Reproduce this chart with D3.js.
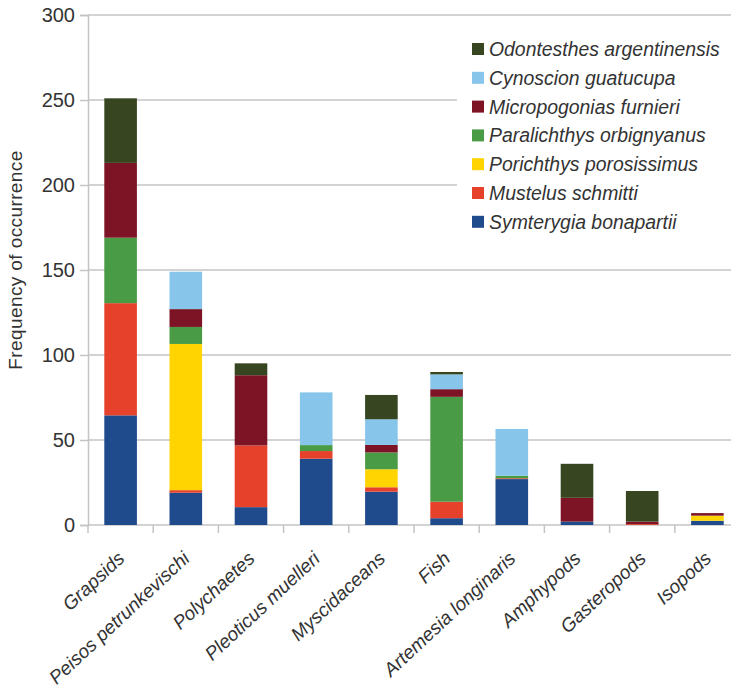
<!DOCTYPE html>
<html>
<head>
<meta charset="utf-8">
<script src="https://cdn.jsdelivr.net/npm/d3@7"></script>
<style>
  html, body { margin: 0; padding: 0; background: #fff; }
  svg { display: block; }
  text { font-family: "Liberation Sans", Arial, sans-serif; fill: #333; }
</style>
</head>
<body>
<svg id="chart" width="731" height="690"></svg>
<script>
// Prey categories along the x axis
const categories = ["Grapsids", "Peisos petrunkevischi", "Polychaetes", "Pleoticus muelleri",
  "Myscidaceans", "Fish", "Artemesia longinaris", "Amphypods", "Gasteropods", "Isopods"];

// Frequency of occurrence per predator species (stacked bottom to top)
const symterygia    = [64.5, 19,   10.5, 39,  19.6, 4,    27,   2,  0,   2.5];
const mustelus      = [66,   1.5,  36.3, 4.5, 2.6,  9.7,  0.5,  0,  0.5, 0];
const porichthys    = [0,    86,   0,    0,   10.6, 0,    0,    0,  0,   3];
const paralichthys  = [38.5, 10,   0,    3.5, 9.9,  61.7, 1.5,  0,  0,   0];
const micropogonias = [44,   10.5, 41.3, 0,   4.4,  4.5,  0,    14, 1.5, 1.5];
const cynoscion     = [0,    22,   0,    31,  15.1, 8.7,  27.5, 0,  0,   0];
const odontesthes   = [38,   0,    7,    0,   14.3, 1.4,  0,    20, 18,  0];

const seriesNames = ["Symterygia bonapartii", "Mustelus schmitti", "Porichthys porosissimus",
  "Paralichthys orbignyanus", "Micropogonias furnieri", "Cynoscion guatucupa", "Odontesthes argentinensis"];
const seriesValues = [symterygia, mustelus, porichthys, paralichthys, micropogonias, cynoscion, odontesthes];
const seriesColors = ["#1f4a8c", "#e5412b", "#ffd400", "#4a9b45", "#7d1426", "#87c5ea", "#374620"];

const yTicks = [0, 50, 100, 150, 200, 250, 300];

const rows = categories.map((c, i) => {
  const r = { category: c };
  seriesNames.forEach((s, k) => { r[s] = seriesValues[k][i]; });
  return r;
});

const svg = d3.select("#chart");
const margin = { left: 88, top: 15, bottom: 525, right: 740 };

const x = d3.scaleBand().domain(categories).range([margin.left, margin.right])
  .paddingInner(0.5).paddingOuter(0.25);
const y = d3.scaleLinear().domain([0, 300]).range([margin.bottom, margin.top]);

const gridColor = "#c4c4c4";

// horizontal grid lines
svg.append("g")
  .selectAll("line")
  .data(yTicks.slice(1))
  .join("line")
  .attr("x1", margin.left).attr("x2", 731)
  .attr("y1", d => y(d)).attr("y2", d => y(d))
  .attr("stroke", gridColor).attr("stroke-width", 1.5);

// y axis
const yAxis = svg.append("g")
  .attr("transform", `translate(${margin.left},0)`)
  .call(d3.axisLeft(y).tickValues(yTicks).tickSize(8).tickPadding(5));
yAxis.select(".domain").attr("stroke", gridColor).attr("stroke-width", 1.5);
yAxis.selectAll(".tick line").attr("stroke", gridColor).attr("stroke-width", 1.5);
yAxis.selectAll(".tick text").attr("font-size", 20).attr("fill", "#333")
  .attr("font-family", "Liberation Sans, Arial, sans-serif");

// x axis: ticks sit on the category boundaries
const boundary = d => x(d) - (x.step() - x.bandwidth()) / 2;
const xAxis = svg.append("g").attr("transform", `translate(0,${margin.bottom})`);
xAxis.append("line").attr("x1", margin.left).attr("x2", 731)
  .attr("stroke", gridColor).attr("stroke-width", 1.5);
xAxis.selectAll("line.tk")
  .data(categories)
  .join("line").attr("class", "tk")
  .attr("x1", boundary).attr("x2", boundary)
  .attr("y1", 0).attr("y2", 8)
  .attr("stroke", gridColor).attr("stroke-width", 1.5);

// stacked bars
const stacked = d3.stack().keys(seriesNames)(rows);
svg.append("g")
  .selectAll("g")
  .data(stacked)
  .join("g")
  .attr("fill", (d, i) => seriesColors[i])
  .selectAll("rect")
  .data(d => d)
  .join("rect")
  .attr("x", d => x(d.data.category))
  .attr("width", x.bandwidth())
  .attr("y", d => y(d[1]))
  .attr("height", d => y(d[0]) - y(d[1]));

// category labels
svg.append("g")
  .selectAll("text")
  .data(categories)
  .join("text")
  .attr("transform", d => `translate(${x(d) + x.bandwidth() / 2 + 5},560) rotate(-43)`)
  .attr("text-anchor", "end")
  .attr("font-size", 19)
  .attr("font-style", "italic")
  .text(d => d);

// y axis title
svg.append("text")
  .attr("transform", "translate(22,260) rotate(-90)")
  .attr("text-anchor", "middle")
  .attr("font-size", 19)
  .attr("letter-spacing", 0.4)
  .text("Frequency of occurrence");

// legend (top entry is the top of the stack)
const legend = svg.append("g");
legend.append("rect").attr("x", 457).attr("y", 24).attr("width", 280).attr("height", 232)
  .attr("fill", "#fff");
const legendItems = seriesNames.map((n, i) => ({ name: n, color: seriesColors[i] })).reverse();
const li = legend.selectAll("g.item")
  .data(legendItems)
  .join("g").attr("class", "item")
  .attr("transform", (d, i) => `translate(472,${49 + i * 28.8})`);
li.append("rect").attr("x", 0).attr("y", -6).attr("width", 12).attr("height", 12)
  .attr("fill", d => d.color);
li.append("text").attr("x", 17).attr("y", 7)
  .attr("font-size", 19.4).attr("font-style", "italic")
  .text(d => d.name);
</script>
</body>
</html>
